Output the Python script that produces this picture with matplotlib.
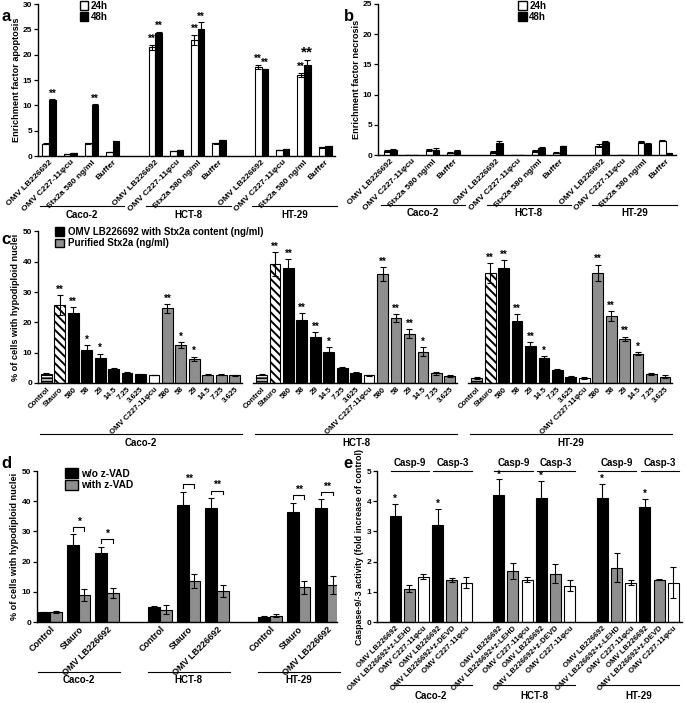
import matplotlib
matplotlib.use('Agg')
import matplotlib.pyplot as plt
import matplotlib.transforms as mtransforms
from matplotlib.patches import Patch
import numpy as np

plt.rcParams['font.family'] = ['Liberation Sans', 'DejaVu Sans']
plt.rcParams['font.weight'] = 'bold'
plt.rcParams['axes.labelweight'] = 'bold'
plt.rcParams['hatch.linewidth'] = 1.4

GRAY = '#8e8e8e'

cell_lines = ['Caco-2', 'HCT-8', 'HT-29']

# ---------------- panel a / b ----------------
ab_treatments = ['OMV LB226692', 'OMV C227-11φcu', 'Stx2a 580 ng/ml', 'Buffer']
apop_24h = [2.4, 0.4, 2.5, 0.8, 21.5, 1.0, 22.9, 2.5, 17.6, 1.2, 16.0, 1.7]
apop_24h_err = [0.1, 0.05, 0.1, 0.05, 0.5, 0.05, 1.0, 0.1, 0.4, 0.05, 0.4, 0.1]
apop_48h = [11.0, 0.6, 10.0, 2.9, 24.3, 1.2, 25.0, 3.1, 17.1, 1.4, 18.0, 1.9]
apop_48h_err = [0.2, 0.05, 0.2, 0.05, 0.2, 0.05, 1.4, 0.05, 0.15, 0.05, 0.9, 0.05]
apop_sig_24h = ['', '', '', '', '**', '', '**', '', '**', '', '**', '']
apop_sig_48h = ['**', '', '**', '', '**', '', '**', '', '**', '', '**', '']
apop_sig_48h_size = [7, 7, 7, 7, 7, 7, 7, 7, 7, 7, 11, 7]

necro_24h = [0.6, 0.05, 0.8, 0.4, 0.5, 0.05, 0.7, 0.4, 1.5, 0.05, 2.2, 2.4]
necro_24h_err = [0.15, 0.0, 0.15, 0.05, 0.1, 0.0, 0.15, 0.05, 0.25, 0.0, 0.15, 0.05]
necro_48h = [0.8, 0.05, 0.9, 0.7, 2.0, 0.05, 1.1, 1.5, 2.2, 0.05, 1.8, 0.3]
necro_48h_err = [0.2, 0.0, 0.2, 0.1, 0.25, 0.0, 0.15, 0.05, 0.1, 0.0, 0.15, 0.05]

# ---------------- panel c ----------------
c_labels = ['Control', 'Stauro', '580', '58', '29', '14.5', '7.25', '3.625',
            'OMV C227-11φcu', '580', '58', '29', '14.5', '7.25', '3.625']
c_kind = ['control', 'stauro', 'omv', 'omv', 'omv', 'omv', 'omv', 'omv',
          'neg', 'stx', 'stx', 'stx', 'stx', 'stx', 'stx']
c_caco = [3.0, 25.7, 23.0, 10.8, 8.1, 4.5, 3.3, 2.9, 2.6, 24.6, 12.6, 8.0, 2.7, 2.8, 2.5]
c_caco_err = [0.3, 3.3, 2.0, 1.8, 1.6, 0.5, 0.3, 0.2, 0.1, 1.4, 0.9, 0.7, 0.2, 0.3, 0.3]
c_caco_sig = ['', '**', '**', '*', '*', '', '', '', '', '**', '*', '*', '', '', '']
c_hct = [2.8, 39.2, 38.0, 20.8, 15.2, 10.3, 5.0, 3.2, 2.6, 36.0, 21.4, 16.2, 10.3, 3.2, 2.4]
c_hct_err = [0.3, 4.0, 3.0, 2.2, 1.6, 1.5, 0.3, 0.3, 0.2, 2.3, 1.3, 1.5, 1.5, 0.4, 0.3]
c_hct_sig = ['', '**', '**', '**', '**', '*', '', '', '', '**', '**', '**', '*', '', '']
c_ht = [1.6, 36.3, 38.0, 20.5, 12.2, 8.2, 4.3, 2.0, 1.7, 36.3, 22.1, 14.5, 9.6, 3.0, 2.0]
c_ht_err = [0.3, 3.3, 2.6, 2.3, 1.2, 0.6, 0.4, 0.2, 0.3, 2.8, 1.5, 0.8, 0.5, 0.3, 0.5]
c_ht_sig = ['', '**', '**', '**', '**', '*', '', '', '', '**', '**', '**', '*', '', '']

# ---------------- panel d ----------------
d_treat = ['Control', 'Stauro', 'OMV LB226692']
d_wo = [3.2, 25.6, 23.0, 4.9, 38.9, 37.9, 1.7, 36.3, 37.9]
d_wo_err = [0.2, 3.4, 2.0, 0.3, 4.3, 3.1, 0.2, 3.2, 2.7]
d_with = [3.3, 8.9, 9.6, 4.1, 13.6, 10.3, 2.1, 11.5, 12.3]
d_with_err = [0.3, 2.0, 1.5, 1.5, 2.2, 1.9, 0.5, 2.1, 2.9]
d_sig = ['', '*', '*', '', '**', '**', '', '**', '**']

# ---------------- panel e ----------------
e_labels = ['OMV LB226692', 'OMV LB226692+z-LEHD', 'OMV C227-11φcu',
            'OMV LB226692', 'OMV LB226692+z-DEVD', 'OMV C227-11φcu']
e_colors = ['black', GRAY, 'white', 'black', GRAY, 'white']
e_assays = ['Casp-9', 'Casp-3']
e_caco = [3.5, 1.1, 1.5, 3.2, 1.4, 1.3]
e_caco_err = [0.42, 0.12, 0.08, 0.55, 0.07, 0.18]
e_hct = [4.2, 1.7, 1.4, 4.1, 1.6, 1.2]
e_hct_err = [0.52, 0.27, 0.08, 0.58, 0.32, 0.18]
e_ht = [4.1, 1.8, 1.3, 3.8, 1.4, 1.3]
e_ht_err = [0.48, 0.48, 0.08, 0.28, 0.02, 0.52]
e_sig = ['*', '', '', '*', '', '']

# ======================================================
fig = plt.figure(figsize=(6.85, 7.03), dpi=100)

ax_a = fig.add_axes([0.0555, 0.778, 0.4336, 0.2163])
ax_b = fig.add_axes([0.552, 0.7795, 0.435, 0.215])
ax_c = fig.add_axes([0.0555, 0.4552, 0.927, 0.2155])
ax_d = fig.add_axes([0.054, 0.1152, 0.438, 0.2148])
ax_e = fig.add_axes([0.5504, 0.1152, 0.445, 0.2148])


def style(ax):
    for s in ['top', 'right']:
        ax.spines[s].set_visible(False)
    for s in ['left', 'bottom']:
        ax.spines[s].set_linewidth(1.0)
    ax.tick_params(axis='y', direction='out', length=3, width=0.9, labelsize=6.0, pad=1.2)
    ax.tick_params(axis='x', length=0, pad=2)


def set_xlabels(ax, pos, labels, size=6.3):
    ax.set_xticks(pos)
    ax.set_xticklabels(labels, rotation=45, ha='right', va='top',
                       rotation_mode='anchor', fontsize=size)


def group_lines(ax, starts, ends, names, yline, ytext, size=7.0):
    tr = mtransforms.blended_transform_factory(ax.transData, ax.transAxes)
    for s, e, n in zip(starts, ends, names):
        ax.plot([s, e], [yline, yline], transform=tr, color='black', lw=0.8, clip_on=False)
        ax.text((s + e) / 2, ytext, n, transform=tr, ha='center', va='center', fontsize=size)


def stars(ax, xs, tops, sigs, sizes=None, dy=0.5):
    for i, (x, t, s) in enumerate(zip(xs, tops, sigs)):
        if s:
            fs = 7 if sizes is None else sizes[i]
            ax.annotate(s, (x, t), xytext=(0, dy), textcoords='offset points',
                        ha='center', va='bottom', fontsize=fs)


err_kw = dict(fmt='none', ecolor='black', elinewidth=0.8, capsize=2, capthick=0.8)

# ---------------- a & b ----------------
n_t = len(ab_treatments)
pos_ab = np.array([g * (n_t + 1) + i for g in range(len(cell_lines)) for i in range(n_t)], float)
bw = 0.31
for ax, v24, e24, v48, e48, ylab, ymax in [
        (ax_a, apop_24h, apop_24h_err, apop_48h, apop_48h_err, 'Enrichment factor apoptosis', 30),
        (ax_b, necro_24h, necro_24h_err, necro_48h, necro_48h_err, 'Enrichment factor necrosis', 25)]:
    style(ax)
    ax.bar(pos_ab - bw / 2, v24, bw, color='white', edgecolor='black', linewidth=0.8, label='24h')
    ax.bar(pos_ab + bw / 2, v48, bw, color='black', edgecolor='black', linewidth=0.8, label='48h')
    ax.errorbar(pos_ab - bw / 2, v24, yerr=e24, **err_kw)
    ax.errorbar(pos_ab + bw / 2, v48, yerr=e48, **err_kw)
    ax.set_ylim(0, ymax)
    ax.set_yticks(np.arange(0, ymax + 1, 5))
    ax.set_ylabel(ylab, fontsize=6.6, labelpad=1.5)
    set_xlabels(ax, pos_ab, ab_treatments * len(cell_lines), size=6.1)
    starts = [pos_ab[g * n_t] - 0.45 for g in range(len(cell_lines))]
    ends = [pos_ab[g * n_t + n_t - 1] + 0.55 for g in range(len(cell_lines))]
    group_lines(ax, starts, ends, cell_lines, -0.33, -0.385)

ax_a.set_xlim(-0.52, 13.46)
ax_b.set_xlim(-0.57, 13.5)
stars(ax_a, pos_ab - bw / 2, np.add(apop_24h, apop_24h_err), apop_sig_24h)
stars(ax_a, pos_ab + bw / 2, np.add(apop_48h, apop_48h_err), apop_sig_48h, apop_sig_48h_size)

for ax, x0 in [(ax_a, 0.14), (ax_b, 0.47)]:
    ax.legend(handles=[Patch(facecolor='white', edgecolor='black', label='24h'),
                       Patch(facecolor='black', edgecolor='black', label='48h')],
              loc='upper left', bbox_to_anchor=(x0, 1.02), frameon=False, fontsize=7,
              handlelength=0.9, handleheight=1.0, handletextpad=0.25, labelspacing=0.12,
              borderpad=0, borderaxespad=0)

# ---------------- c ----------------
style(ax_c)
n_c = len(c_labels)
c_vals = [c_caco, c_hct, c_ht]
c_errs = [c_caco_err, c_hct_err, c_ht_err]
c_sigs = [c_caco_sig, c_hct_sig, c_ht_sig]
kind_style = {
    'control': dict(color='white', hatch='-----'),
    'stauro': dict(color='white', hatch='\\\\\\\\'),
    'omv': dict(color='black'),
    'neg': dict(color='white'),
    'stx': dict(color=GRAY),
}
cw = 0.8
all_pos_c = []
for g in range(len(cell_lines)):
    pos = np.arange(n_c) + g * (n_c + 1)
    all_pos_c.extend(pos)
    for i in range(n_c):
        ax_c.bar(pos[i], c_vals[g][i], cw, edgecolor='black', linewidth=0.8,
                 **kind_style[c_kind[i]])
    ax_c.errorbar(pos, c_vals[g], yerr=c_errs[g], **err_kw)
    stars(ax_c, pos, np.add(c_vals[g], c_errs[g]), c_sigs[g], dy=0.3)
    ax_c.plot([pos[0] - 0.62, pos[-1] + 0.55], [0, 0], color='black', lw=1.0, clip_on=False)
ax_c.spines['bottom'].set_visible(False)
ax_c.set_xlim(-0.62, 46.6)
ax_c.set_ylim(0, 50)
ax_c.set_yticks(np.arange(0, 51, 10))
ax_c.set_ylabel('% of cells with hypodiploid nuclei', fontsize=6.6, labelpad=2)
set_xlabels(ax_c, all_pos_c, c_labels * len(cell_lines), size=5.6)
starts = [g * (n_c + 1) - 0.5 for g in range(len(cell_lines))]
ends = [g * (n_c + 1) + n_c - 1 + 0.55 for g in range(len(cell_lines))]
group_lines(ax_c, starts, ends, cell_lines, -0.337, -0.395)
ax_c.legend(handles=[Patch(facecolor='black', edgecolor='black',
                           label='OMV LB226692 with Stx2a content (ng/ml)'),
                     Patch(facecolor=GRAY, edgecolor='black', label='Purified Stx2a (ng/ml)')],
            loc='upper left', bbox_to_anchor=(0.026, 1.03), frameon=False, fontsize=7,
            handlelength=1.0, handleheight=1.0, handletextpad=0.35, labelspacing=0.15,
            borderpad=0, borderaxespad=0)

# ---------------- d ----------------
style(ax_d)
n_d = len(d_treat)
gap_d = 0.86
pos_d = np.array([g * (n_d + gap_d) + i for g in range(len(cell_lines)) for i in range(n_d)])
dw = 0.41
ax_d.bar(pos_d - dw / 2, d_wo, dw, color='black', edgecolor='black', linewidth=0.8)
ax_d.bar(pos_d + dw / 2, d_with, dw, color=GRAY, edgecolor='black', linewidth=0.8)
ax_d.errorbar(pos_d - dw / 2, d_wo, yerr=d_wo_err, **err_kw)
ax_d.errorbar(pos_d + dw / 2, d_with, yerr=d_with_err, **err_kw)
for x, v, e, s in zip(pos_d, d_wo, d_wo_err, d_sig):
    if s:
        h = v + e + 2.5
        ax_d.plot([x - dw / 2, x - dw / 2, x + dw / 2, x + dw / 2], [h - 1.2, h, h, h - 1.2],
                  color='black', lw=0.8)
        ax_d.annotate(s, (x, h), xytext=(0, 0.3), textcoords='offset points',
                      ha='center', va='bottom', fontsize=7.5)
ax_d.set_xlim(-0.46, 10.07)
ax_d.set_ylim(0, 50)
ax_d.set_yticks(np.arange(0, 51, 10))
ax_d.set_ylabel('% of cells with hypodiploid nuclei', fontsize=6.6, labelpad=2)
set_xlabels(ax_d, pos_d, d_treat * len(cell_lines), size=6.5)
starts = [pos_d[g * n_d] - 0.42 for g in range(len(cell_lines))]
ends = [pos_d[g * n_d + n_d - 1] + 0.44 for g in range(len(cell_lines))]
group_lines(ax_d, starts, ends, cell_lines, -0.33, -0.385)
ax_d.legend(handles=[Patch(facecolor='black', edgecolor='black', label='w/o z-VAD'),
                     Patch(facecolor=GRAY, edgecolor='black', label='with z-VAD')],
            loc='upper left', bbox_to_anchor=(0.095, 1.02), frameon=False, fontsize=7.3,
            handlelength=1.2, handleheight=1.2, handletextpad=0.3, labelspacing=0.12,
            borderpad=0, borderaxespad=0)

# ---------------- e ----------------
style(ax_e)
n_e = len(e_labels)
gap_e = 1.3
e_vals = [e_caco, e_hct, e_ht]
e_errs = [e_caco_err, e_hct_err, e_ht_err]
ew = 0.77
all_pos_e = []
tr_e = mtransforms.blended_transform_factory(ax_e.transData, ax_e.transAxes)
for g in range(len(cell_lines)):
    pos = np.arange(n_e) + g * (n_e + gap_e)
    all_pos_e.extend(pos)
    ax_e.bar(pos, e_vals[g], ew, color=e_colors, edgecolor='black', linewidth=0.8)
    ax_e.errorbar(pos, e_vals[g], yerr=e_errs[g], **err_kw)
    stars(ax_e, pos, np.add(e_vals[g], e_errs[g]), e_sig, dy=0.0)
    for k, name in enumerate(e_assays):
        s = pos[3 * k] - 0.3
        t = pos[3 * k + 2] + 0.4
        ax_e.plot([s, t], [1.0, 1.0], transform=tr_e, color='black', lw=0.8, clip_on=False)
        ax_e.text((s + t) / 2, 1.055, name, transform=tr_e, ha='center', va='center', fontsize=7.0)
ax_e.set_xlim(-1.27, 20.2)
ax_e.set_ylim(0, 5)
ax_e.set_yticks(np.arange(0, 6, 1))
ax_e.set_ylabel('Caspase-9/-3 activity (fold increase of control)', fontsize=6.4, labelpad=2)
set_xlabels(ax_e, all_pos_e, e_labels * len(cell_lines), size=5.6)
starts = [g * (n_e + gap_e) - 0.3 for g in range(len(cell_lines))]
ends = [g * (n_e + gap_e) + n_e - 1 + 0.4 for g in range(len(cell_lines))]
group_lines(ax_e, starts, ends, cell_lines, -0.417, -0.49)

# panel letters
for lab, x, y in [('a', 0.002, 0.977), ('b', 0.502, 0.977), ('c', 0.002, 0.659),
                  ('d', 0.002, 0.341), ('e', 0.502, 0.341)]:
    fig.text(x, y, lab, fontsize=12, fontweight='bold', ha='left', va='center')

fig.savefig('out.png', dpi=100)
